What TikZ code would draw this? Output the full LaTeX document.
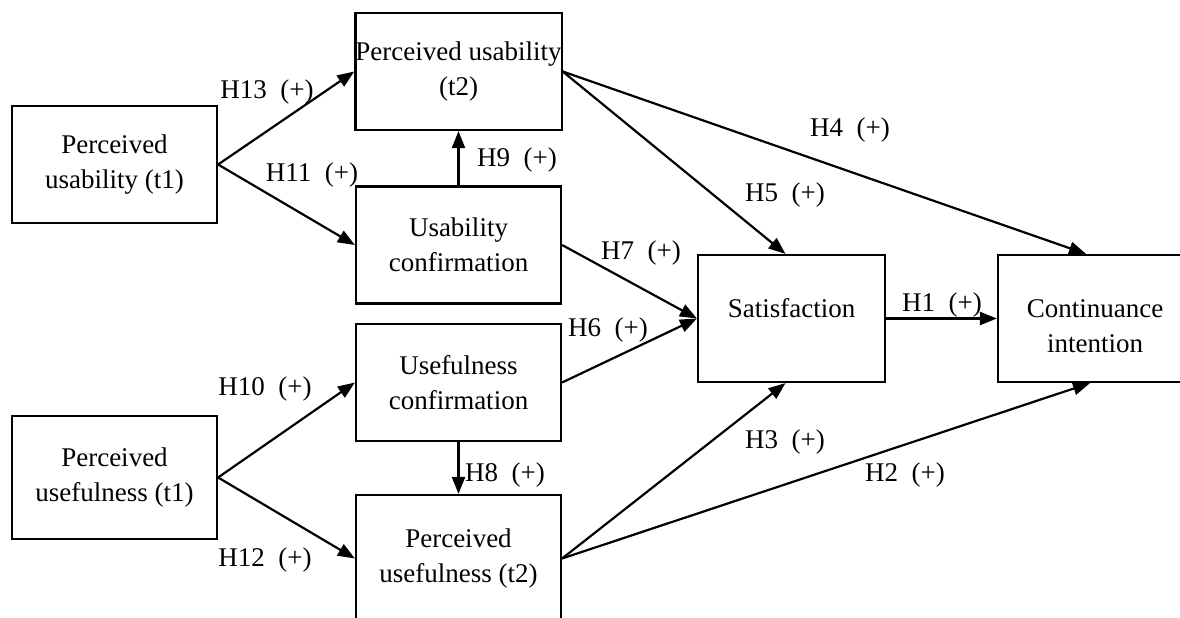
\documentclass[tikz,border=0pt]{standalone}
\usepackage{fontspec}
\setmainfont{Liberation Serif}
\usepackage{tikz}
\usetikzlibrary{arrows.meta}
\tikzset{
    cbox/.style={
        draw=black, line width=2.2pt,
        minimum width=205pt, minimum height=117pt,
        inner sep=0pt, align=center,
        font=\fontsize{27}{35}\selectfont
    },
    hyparrow/.style={-{Triangle[length=17pt,width=13pt]}, line width=2.2pt, color=black},
    hyplabel/.style={font=\fontsize{27}{30}\selectfont, inner sep=0pt},
}

\begin{document}
\begin{tikzpicture}[x=1pt, y=-1pt]
    \useasboundingbox (0,0) rectangle (1180,618);
    % constructs
    \node[cbox] (usa1) at (114.5,164.5) {Perceived\\usability (t1)};
    \node[cbox] (usa2) at (458.5,71.5) {Perceived usability\\(t2)};
    \node[cbox] (ucon) at (458.5,245) {Usability\\confirmation};
    \node[cbox] (fcon) at (458.5,382.5) {Usefulness\\confirmation};
    \node[cbox, minimum height=123pt] (use1) at (114.5,477.5) {Perceived\\usefulness (t1)};
    \node[cbox, minimum height=127pt] (use2) at (458.5,558.5) {Perceived\\usefulness (t2)};
    \node[cbox, minimum width=187pt, minimum height=127pt] (sat) at (791.5,318.5) {Satisfaction\rule[-22pt]{0pt}{0pt}};
    \node[cbox, minimum width=194pt, minimum height=127pt] (cint) at (1095,318.5) {\rule{0pt}{34pt}Continuance\\intention};
    % hypotheses
    \draw[hyparrow] (usa1.east) -- (usa2.west);
    \draw[hyparrow] (usa1.east) -- (ucon.west);
    \draw[hyparrow] (ucon.north) -- (usa2.south);
    \draw[hyparrow] (use1.east) -- (fcon.west);
    \draw[hyparrow] (use1.east) -- (use2.west);
    \draw[hyparrow] (fcon.south) -- (use2.north);
    \draw[hyparrow] (usa2.east) -- ([xshift=-9pt]cint.north);
    \draw[hyparrow] (usa2.east) -- ([xshift=-6pt]sat.north);
    \draw[hyparrow] (ucon.east) -- (sat.west);
    \draw[hyparrow] (fcon.east) -- (sat.west);
    \draw[hyparrow] (sat.east) -- (cint.west);
    \draw[hyparrow] (use2.east) -- ([xshift=-6pt]sat.south);
    \draw[hyparrow] (use2.east) -- ([xshift=-5pt]cint.south);
    % labels
    \node[hyplabel] (h13) at (267,92) {H13~~(+)};
    \node[hyplabel] (h11) at (312,175) {H11~~(+)};
    \node[hyplabel] (h9) at (517,160) {H9~~(+)};
    \node[hyplabel] (h10) at (265,389) {H10~~(+)};
    \node[hyplabel] (h12) at (265,560) {H12~~(+)};
    \node[hyplabel] (h8) at (505,475) {H8~~(+)};
    \node[hyplabel] (h4) at (850,130) {H4~~(+)};
    \node[hyplabel] (h5) at (785,195) {H5~~(+)};
    \node[hyplabel] (h7) at (641,253) {H7~~(+)};
    \node[hyplabel] (h6) at (608,330) {H6~~(+)};
    \node[hyplabel] (h1) at (942,305) {H1~~(+)};
    \node[hyplabel] (h3) at (785,442) {H3~~(+)};
    \node[hyplabel] (h2) at (905,475) {H2~~(+)};
\end{tikzpicture}
\end{document}
